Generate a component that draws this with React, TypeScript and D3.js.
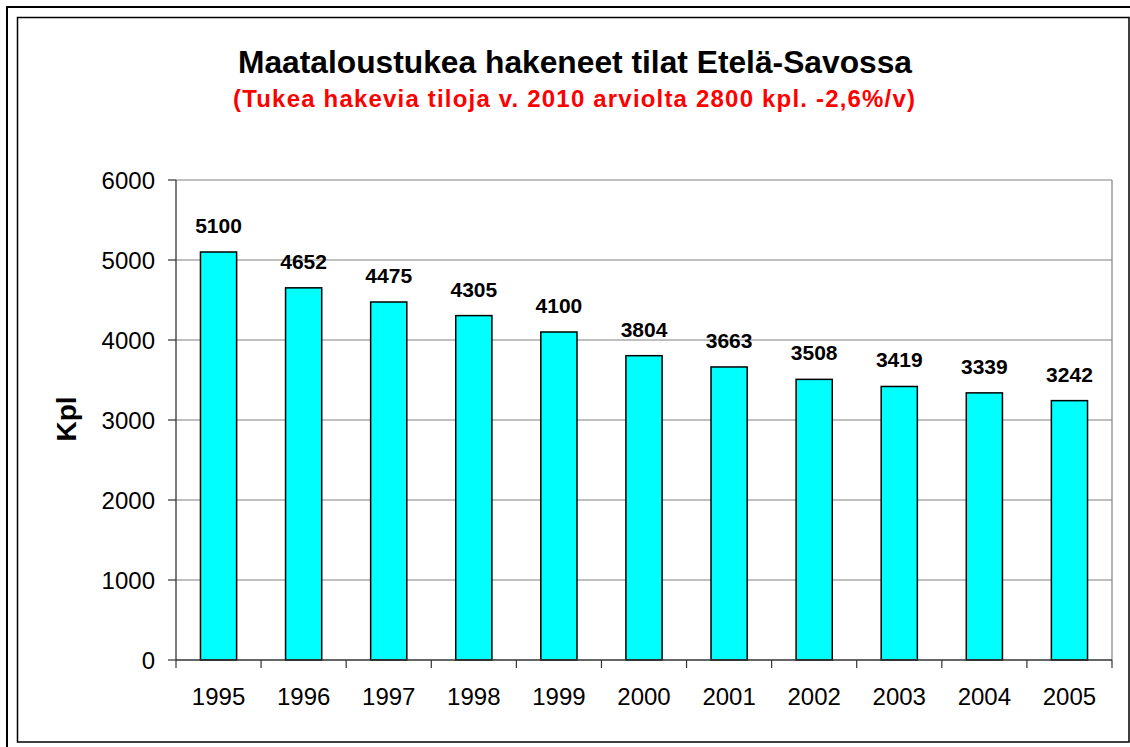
import React from "react";
import * as d3 from "d3";

const years = ["1995", "1996", "1997", "1998", "1999", "2000", "2001", "2002", "2003", "2004", "2005"];
const farms = [5100, 4652, 4475, 4305, 4100, 3804, 3663, 3508, 3419, 3339, 3242];
const yTicks = [0, 1000, 2000, 3000, 4000, 5000, 6000];
const title = "Maataloustukea hakeneet tilat Etelä-Savossa";
const subtitle = "(Tukea hakevia tiloja v. 2010 arviolta 2800 kpl. -2,6%/v)";
const yTitle = "Kpl";

const W = 1130, H = 747;
const plot = { left: 176, right: 1112, top: 180, bottom: 660 };
const FONT = "'Liberation Sans', Arial, sans-serif";

export default function App() {
  const x = d3.scaleBand<string>().domain(years).range([plot.left, plot.right]).paddingInner(0.575).paddingOuter(0.2875);
  const xc = d3.scaleBand<string>().domain(years).range([plot.left, plot.right]).padding(0);
  const y = d3.scaleLinear().domain([0, 6000]).range([plot.bottom, plot.top]);

  return (
    <svg width={W} height={H} style={{ position: "absolute", left: 0, top: 0, background: "#fff" }}>
      <rect x={0} y={0} width={W} height={H} fill="#fff" />
      <rect x={7} y={7} width={W + 20} height={H + 20} fill="none" stroke="#000" strokeWidth={2} />
      <rect x={17.5} y={17.5} width={1111.5} height={724.5} fill="none" stroke="#000" strokeWidth={1.5} />

      <text x={575} y={73} textAnchor="middle" fontFamily={FONT} fontWeight="bold" fontSize={31.5} fill="#000"
        textLength={674} lengthAdjust="spacingAndGlyphs">{title}</text>
      <text x={574} y={107} textAnchor="middle" fontFamily={FONT} fontWeight="bold" fontSize={24} fill="#ff0000"
        textLength={682} lengthAdjust="spacing">{subtitle}</text>

      {/* gridlines */}
      {yTicks.filter(t => t > 0).map(t => (
        <line key={"g" + t} x1={plot.left} x2={plot.right} y1={y(t)} y2={y(t)} stroke="#808080" strokeWidth={1} />
      ))}
      {/* plot border right */}
      <line x1={plot.right} x2={plot.right} y1={plot.top} y2={plot.bottom} stroke="#808080" strokeWidth={1.2} />

      {/* bars */}
      {years.map((yr, i) => (
        <rect key={yr} x={x(yr)} y={y(farms[i])} width={x.bandwidth()} height={plot.bottom - y(farms[i])}
          fill="#00ffff" stroke="#000" strokeWidth={1.5} />
      ))}
      {years.map((yr, i) => (
        <text key={"l" + yr} x={x(yr)! + x.bandwidth() / 2} y={y(farms[i]) - 19} textAnchor="middle"
          fontFamily={FONT} fontWeight="bold" fontSize={21} fill="#000">{farms[i]}</text>
      ))}

      {/* axes */}
      <line x1={plot.left} x2={plot.left} y1={plot.top} y2={plot.bottom} stroke="#333" strokeWidth={1.3} />
      <line x1={plot.left} x2={plot.right} y1={plot.bottom} y2={plot.bottom} stroke="#333" strokeWidth={1.3} />
      {yTicks.map(t => (
        <g key={"yt" + t}>
          <line x1={plot.left - 8} x2={plot.left} y1={y(t)} y2={y(t)} stroke="#333" strokeWidth={1.2} />
          <text x={155} y={y(t) + 8.5} textAnchor="end" fontFamily={FONT} fontSize={24} fill="#000">{t}</text>
        </g>
      ))}
      {[...years.map(yr => xc(yr)!), plot.right].map((px, i) => (
        <line key={"xt" + i} x1={px} x2={px} y1={plot.bottom} y2={plot.bottom + 8} stroke="#333" strokeWidth={1.2} />
      ))}
      {years.map(yr => (
        <text key={"xl" + yr} x={xc(yr)! + xc.bandwidth() / 2} y={705} textAnchor="middle" fontFamily={FONT} fontSize={24} fill="#000">{yr}</text>
      ))}

      <text transform={`translate(75.5,419) rotate(-90)`} textAnchor="middle" fontFamily={FONT} fontWeight="bold" fontSize={28} fill="#000">{yTitle}</text>
    </svg>
  );
}
